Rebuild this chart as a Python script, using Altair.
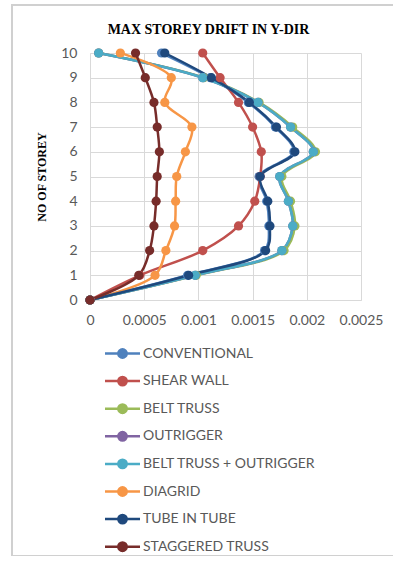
import altair as alt
import pandas as pd

# Storey levels and maximum storey drift in the Y direction for each system
storeys = [0, 1, 2, 3, 4, 5, 6, 7, 8, 9, 10]

conventional = [0, 0.00090, 0.00161, 0.00165, 0.00163, 0.00156, 0.00188, 0.00171, 0.00146, 0.00111, 0.00066]
shear_wall = [0, 0.00046, 0.00104, 0.00137, 0.00152, 0.00157, 0.00158, 0.00150, 0.00137, 0.00120, 0.00104]
belt_truss = [0, 0.00098, 0.00179, 0.00189, 0.00185, 0.00177, 0.00208, 0.00187, 0.00156, 0.00105, 0.00008]
outrigger = [0, 0.00097, 0.00177, 0.00187, 0.00183, 0.00175, 0.00206, 0.00185, 0.00155, 0.00104, 0.00008]
belt_truss_outrigger = [0, 0.00097, 0.00177, 0.00187, 0.00183, 0.00175, 0.00206, 0.00185, 0.00155, 0.00104, 0.00008]
diagrid = [0, 0.00060, 0.00070, 0.00078, 0.00079, 0.00080, 0.00088, 0.00094, 0.00069, 0.00075, 0.00028]
tube_in_tube = [0, 0.00091, 0.00162, 0.00166, 0.00164, 0.00157, 0.00189, 0.00172, 0.00147, 0.00112, 0.00069]
staggered_truss = [0, 0.00045, 0.00055, 0.00059, 0.00061, 0.00062, 0.00064, 0.00062, 0.00059, 0.00051, 0.00042]

series_names = [
    "CONVENTIONAL",
    "SHEAR WALL",
    "BELT TRUSS",
    "OUTRIGGER",
    "BELT TRUSS + OUTRIGGER",
    "DIAGRID",
    "TUBE IN TUBE",
    "STAGGERED TRUSS",
]
series_values = [
    conventional,
    shear_wall,
    belt_truss,
    outrigger,
    belt_truss_outrigger,
    diagrid,
    tube_in_tube,
    staggered_truss,
]
series_colors = [
    "#4F81BD",
    "#C0504D",
    "#9BBB59",
    "#8064A2",
    "#4BACC6",
    "#F79646",
    "#1F497D",
    "#772C2A",
]

x_ticks = [0.0, 0.0005, 0.001, 0.0015, 0.002, 0.0025]
y_ticks = [0.0, 1.0, 2.0, 3.0, 4.0, 5.0, 6.0, 7.0, 8.0, 9.0, 10.0]

rows = []
for idx, (name, vals) in enumerate(zip(series_names, series_values)):
    for s, v in zip(storeys, vals):
        rows.append({"system": name, "order": idx, "storey": s, "drift": v})
df = pd.DataFrame(rows)

label_font = "Lato"
gray_text = "#595959"
grid_gray = "#D9D9D9"

# Legend glyph: a short line with a filled dot in the middle
legend_glyph = "M-1.75,0L1.75,0M0.42,0A0.42,0.42,0,1,1,-0.42,0A0.42,0.42,0,1,1,0.42,0Z"

color_scale = alt.Scale(domain=series_names, range=series_colors)

x_axis = alt.Axis(
    values=x_ticks,
    format="~g",
    title=None,
    grid=True,
    ticks=False,
    labelPadding=13,
    labelOverlap=False,
    labelFlush=False,
)
y_axis = alt.Axis(
    values=y_ticks,
    format="d",
    title="NO OF STOREY",
    grid=True,
    ticks=False,
    labelPadding=13,
    labelOverlap=False,
    labelFlush=False,
    titleFont="Liberation Serif",
    titleFontSize=12,
    titleFontWeight="bold",
    titleColor="#000000",
    titlePadding=12,
)

lines = (
    alt.Chart(df)
    .mark_line(
        strokeWidth=2.5,
        interpolate="catmull-rom",
        point=alt.OverlayMarkDef(filled=True, size=85, opacity=1),
    )
    .encode(
        x=alt.X("drift:Q", scale=alt.Scale(domain=[0, 0.0025], nice=False), axis=x_axis),
        y=alt.Y("storey:Q", scale=alt.Scale(domain=[0, 10], nice=False), axis=y_axis),
        color=alt.Color(
            "system:N",
            scale=color_scale,
            sort=series_names,
            legend=alt.Legend(
                title=None,
                orient="none",
                legendX=21,
                legendY=289,
                symbolType=legend_glyph,
                symbolSize=400,
                symbolStrokeWidth=2.5,
                labelFont=label_font,
                labelFontSize=14,
                labelColor=gray_text,
                labelOffset=9,
                labelLimit=320,
                rowPadding=6.6,
                padding=0,
            ),
        ),
        detail="system:N",
        order="storey:Q",
    )
)

# Outer chart border
frame = (
    alt.Chart(pd.DataFrame({"k": [0]}))
    .mark_rect(fill="transparent", stroke="#D0D0D0", strokeWidth=2)
    .encode(
        x=alt.value(-78),
        x2=alt.value(700),
        y=alt.value(-48),
        y2=alt.value(503),
    )
)

chart = (
    alt.layer(frame, lines)
    .properties(
        width=271,
        height=247,
        background="#FFFFFF",
        autosize=alt.AutoSizeParams(type="none"),
        padding={"left": 90, "top": 53, "right": 32, "bottom": 256},
        title=alt.TitleParams(
            "MAX STOREY DRIFT IN Y-DIR",
            font="Liberation Serif",
            fontSize=14,
            fontWeight="bold",
            color="#000000",
            anchor="middle",
            dx=-17,
            offset=-33,
        ),
    )
    .configure_view(stroke=None)
    .configure_axis(
        labelFont=label_font,
        labelFontSize=14,
        labelColor=gray_text,
        gridColor=grid_gray,
        gridWidth=1,
        domainColor=grid_gray,
        domainWidth=1,
    )
)

chart.save("out.html", embed_options={"renderer": "svg", "actions": False})
